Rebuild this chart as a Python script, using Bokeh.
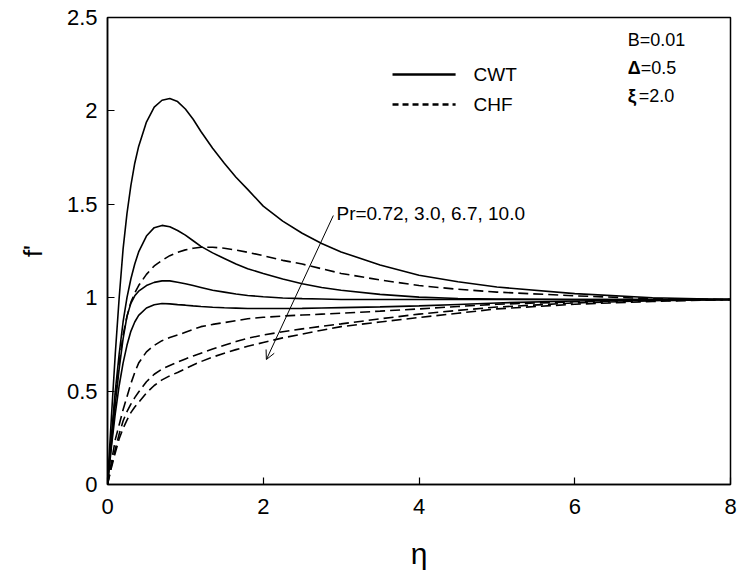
from bokeh.plotting import figure
from bokeh.models import FixedTicker, Arrow, OpenHead, Label
from bokeh.embed import file_html
from bokeh.resources import INLINE

# ---- data ----
eta = [0, 0.025, 0.05, 0.1, 0.15, 0.2, 0.25, 0.3, 0.35, 0.4, 0.5, 0.6, 0.7, 0.8, 0.9,
       1.0, 1.1, 1.2, 1.35, 1.5, 1.65, 1.8, 2.0, 2.25, 2.5, 2.75, 3.0, 3.5, 4.0, 4.5,
       5.0, 6.0, 7.0, 8.0]

# CWT (solid), Pr = 0.72, 3.0, 6.7, 10.0
cwt_072 = [0, 0.18, 0.36, 0.70, 1.00, 1.26, 1.45, 1.60, 1.72, 1.81, 1.94, 2.02, 2.057, 2.066, 2.05,
           2.01, 1.955, 1.89, 1.80, 1.72, 1.645, 1.58, 1.49, 1.41, 1.345, 1.29, 1.245, 1.175, 1.12, 1.085,
           1.057, 1.022, 1.0, 0.99]
cwt_30 = [0, 0.13, 0.26, 0.50, 0.70, 0.87, 1.0, 1.10, 1.18, 1.245, 1.33, 1.375, 1.387, 1.38, 1.36,
          1.335, 1.305, 1.275, 1.24, 1.21, 1.18, 1.155, 1.13, 1.10, 1.075, 1.055, 1.04, 1.018, 1.003, 0.996,
          0.993, 0.99, 0.99, 0.99]
cwt_67 = [0, 0.11, 0.22, 0.43, 0.62, 0.78, 0.90, 0.97, 1.01, 1.035, 1.065, 1.082, 1.09, 1.09, 1.083,
          1.075, 1.065, 1.055, 1.04, 1.03, 1.02, 1.012, 1.005, 0.998, 0.995, 0.993, 0.99, 0.99, 0.99, 0.99,
          0.99, 0.99, 0.99, 0.99]
cwt_100 = [0, 0.10, 0.20, 0.38, 0.53, 0.65, 0.745, 0.82, 0.87, 0.905, 0.945, 0.962, 0.969, 0.967, 0.963,
           0.96, 0.956, 0.953, 0.949, 0.946, 0.944, 0.942, 0.942, 0.942, 0.943, 0.945, 0.947, 0.951, 0.956, 0.964,
           0.972, 0.982, 0.988, 0.99]

# CHF (dashed), Pr = 0.72, 3.0, 6.7, 10.0
chf_072 = [0, 0.13, 0.25, 0.47, 0.65, 0.80, 0.90, 0.975, 1.025, 1.065, 1.125, 1.17, 1.20, 1.225, 1.243,
           1.256, 1.265, 1.27, 1.27, 1.265, 1.255, 1.243, 1.225, 1.20, 1.18, 1.155, 1.13, 1.095, 1.065, 1.045,
           1.03, 1.01, 0.995, 0.99]
chf_30 = [0, 0.06, 0.12, 0.24, 0.32, 0.40, 0.47, 0.54, 0.60, 0.65, 0.71, 0.745, 0.77, 0.787, 0.80,
          0.815, 0.83, 0.845, 0.857, 0.867, 0.877, 0.887, 0.895, 0.902, 0.907, 0.912, 0.917, 0.928, 0.94, 0.953,
          0.965, 0.978, 0.986, 0.99]
chf_67 = [0, 0.05, 0.10, 0.19, 0.27, 0.34, 0.39, 0.43, 0.465, 0.495, 0.55, 0.59, 0.618, 0.637, 0.655,
          0.672, 0.688, 0.703, 0.725, 0.745, 0.765, 0.783, 0.80, 0.818, 0.833, 0.847, 0.86, 0.887, 0.912, 0.932,
          0.95, 0.972, 0.984, 0.99]
chf_100 = [0, 0.045, 0.09, 0.17, 0.245, 0.30, 0.345, 0.385, 0.415, 0.44, 0.49, 0.53, 0.56, 0.582, 0.60,
           0.62, 0.64, 0.658, 0.682, 0.703, 0.722, 0.74, 0.76, 0.785, 0.805, 0.826, 0.845, 0.87, 0.894, 0.917,
           0.94, 0.965, 0.98, 0.99]

x_ticks = [0, 2, 4, 6, 8]
y_ticks = [0, 0.5, 1, 1.5, 2, 2.5]
y_tick_labels = {0: "0", 0.5: "0.5", 1: "1", 1.5: "1.5", 2: "2", 2.5: "2.5"}

FONT = "Liberation Sans"

p = figure(width=738, height=573, x_range=(0, 8), y_range=(0, 2.5),
           output_backend="svg", toolbar_location=None,
           min_border_left=107, min_border_right=8, min_border_top=17, min_border_bottom=89)
p.grid.visible = False
p.outline_line_color = "black"
p.outline_line_width = 1.5
p.background_fill_color = "white"
p.border_fill_color = "white"

for ax in (p.xaxis[0], p.yaxis[0]):
    ax.axis_line_width = 1.5
    ax.axis_line_color = "black"
    ax.major_tick_in = 7
    ax.major_tick_out = 0
    ax.minor_tick_line_color = None
    ax.major_tick_line_width = 1.2
    ax.major_label_text_font = FONT
    ax.major_label_text_font_size = "22px"
    ax.major_label_text_color = "black"
    ax.axis_label_text_font = FONT
    ax.axis_label_text_font_style = "normal"
    ax.axis_label_text_color = "black"

p.xaxis.ticker = FixedTicker(ticks=x_ticks)
p.yaxis.ticker = FixedTicker(ticks=y_ticks)
p.yaxis.major_label_overrides = y_tick_labels
p.xaxis.major_label_standoff = 14
p.yaxis.major_label_standoff = 10
p.xaxis.axis_label = "η"
p.xaxis.axis_label_text_font_size = "30px"
p.xaxis.axis_label_standoff = 20
p.yaxis.axis_label = "f'"
p.yaxis.axis_label_text_font_size = "26px"
p.yaxis.axis_label_standoff = 16

for ys in (cwt_072, cwt_30, cwt_67, cwt_100):
    p.line(eta, ys, line_color="black", line_width=1.6)
for ys in (chf_072, chf_30, chf_67, chf_100):
    p.line(eta, ys, line_color="black", line_width=1.6, line_dash="10 5")

# legend (drawn manually like the reference)
p.line([3.66, 4.47], [2.195, 2.195], line_color="black", line_width=2.5)
p.line([3.66, 4.47], [2.034, 2.034], line_color="black", line_width=2.5, line_dash="6 4")
p.add_layout(Label(x=4.70, y=2.195, text="CWT", text_font=FONT, text_font_size="19px",
                   text_baseline="middle", text_color="black"))
p.add_layout(Label(x=4.70, y=2.034, text="CHF", text_font=FONT, text_font_size="19px",
                   text_baseline="middle", text_color="black"))

# parameters
p.add_layout(Label(x=6.68, y=2.377, text="B=0.01", text_font=FONT, text_font_size="18px",
                   text_baseline="middle", text_color="black"))
p.add_layout(Label(x=6.68, y=2.227, text="Δ", text_font=FONT, text_font_size="18px",
                   text_font_style="bold", text_baseline="middle", text_color="black"))
p.add_layout(Label(x=6.68, y=2.227, x_offset=13, text="=0.5", text_font=FONT, text_font_size="18px",
                   text_baseline="middle", text_color="black"))
p.add_layout(Label(x=6.68, y=2.082, text="ξ", text_font=FONT, text_font_size="19px",
                   text_font_style="bold", text_baseline="middle", text_color="black"))
p.add_layout(Label(x=6.68, y=2.082, x_offset=11, text="=2.0", text_font=FONT, text_font_size="18px",
                   text_baseline="middle", text_color="black"))

# annotation with arrow
p.add_layout(Label(x=2.94, y=1.451, text="Pr=0.72, 3.0, 6.7, 10.0", text_font=FONT,
                   text_font_size="19px", text_baseline="middle", text_color="black"))
p.add_layout(Arrow(x_start=2.9, y_start=1.44, x_end=2.04, y_end=0.669,
                   line_color="black", line_width=1,
                   end=OpenHead(size=9, line_color="black", line_width=1)))

open("out.html", "w").write(file_html(p, INLINE))
